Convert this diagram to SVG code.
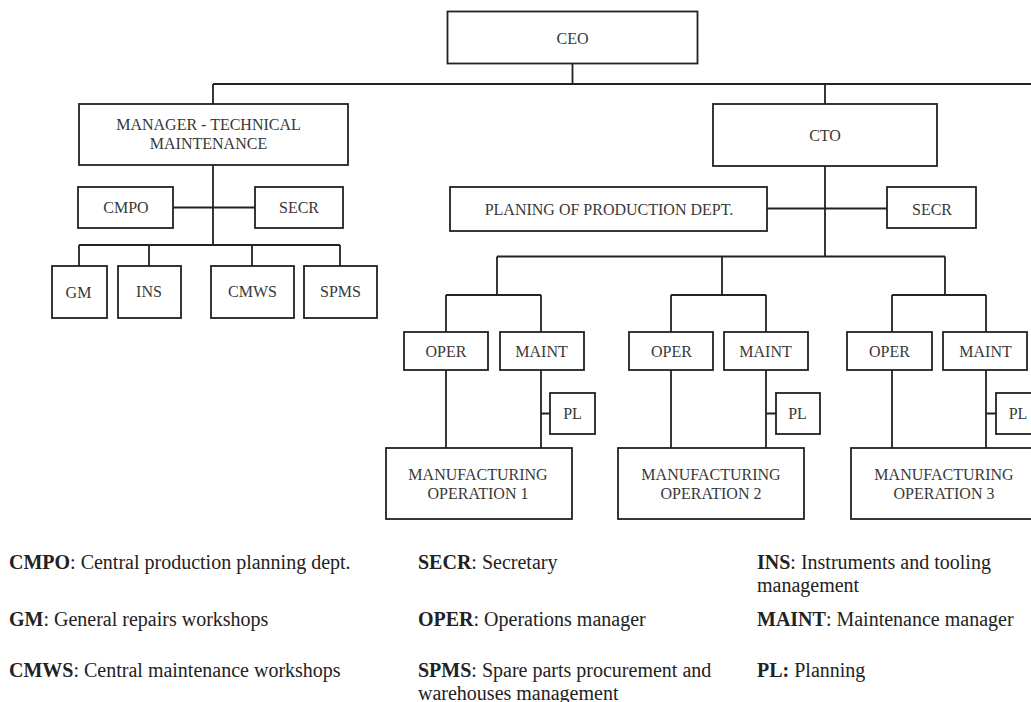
<svg xmlns="http://www.w3.org/2000/svg" width="1031" height="702" viewBox="0 0 1031 702">
  <style>
    .box { fill: #ffffff; stroke: #222222; stroke-width: 1.8; }
    .lbl { font-family: "Liberation Serif", "Times New Roman", serif; font-size: 16px; fill: #383838; text-anchor: middle; }
    .wire { fill: none; stroke: #222222; stroke-width: 1.8; }
    .key { font-family: "Liberation Serif", "Times New Roman", serif; font-size: 20px; fill: #222222; }
    .key .b { font-weight: bold; }
  </style>
  <rect width="1031" height="702" fill="#ffffff"/>

  <!-- connectors -->
  <g id="connectors" class="wire">
    <path d="M572.5 63.5 V84 M213 84 H1031 M213 84 V104 M825 84 V104"/>
    <!-- technical maintenance branch -->
    <path d="M213 165 V245 M173 207.5 H255 M79 245 H340 M79 245 V266 M149 245 V266 M252 245 V266 M340 245 V266"/>
    <!-- CTO branch -->
    <path d="M825 166 V256.5 M767 208.5 H887 M497 256.5 H945 M497 256.5 V295 M722 256.5 V295 M945 256.5 V295"/>
    <path d="M446 295 H541 M671 295 H766 M892 295 H986"/>
    <path d="M446 295 V332 M541 295 V332 M671 295 V332 M766 295 V332 M892 295 V332 M986 295 V332"/>
    <path d="M446 370 V448 M541 370 V448 M671 370 V448 M766 370 V448 M892 370 V448 M986 370 V448"/>
    <path d="M541 413.5 H550 M766 413.5 H776 M986 413.5 H996"/>
  </g>

  <g id="ceo"><rect class="box" x="447.5" y="11.5" width="250" height="52"/><text class="lbl" x="572.5" y="43.5">CEO</text></g>

  <g id="mgr-tech"><rect class="box" x="79" y="104" width="269" height="61"/>
    <text class="lbl" x="208.5" y="130">MANAGER - TECHNICAL</text>
    <text class="lbl" x="208.5" y="148.5">MAINTENANCE</text></g>
  <g id="cmpo"><rect class="box" x="78" y="187" width="95" height="41"/><text class="lbl" x="126" y="212.5">CMPO</text></g>
  <g id="secr-1"><rect class="box" x="255" y="187" width="88" height="41"/><text class="lbl" x="299" y="212.5">SECR</text></g>
  <g id="gm"><rect class="box" x="52" y="266" width="55" height="52"/><text class="lbl" x="78.5" y="297.5">GM</text></g>
  <g id="ins"><rect class="box" x="118" y="266" width="63" height="52"/><text class="lbl" x="149" y="297">INS</text></g>
  <g id="cmws"><rect class="box" x="211" y="266" width="83" height="52"/><text class="lbl" x="252.5" y="297">CMWS</text></g>
  <g id="spms"><rect class="box" x="304" y="266" width="73" height="52"/><text class="lbl" x="340.5" y="297">SPMS</text></g>

  <g id="cto"><rect class="box" x="713" y="104" width="224" height="62"/><text class="lbl" x="825" y="141">CTO</text></g>
  <g id="planning-dept"><rect class="box" x="450" y="187" width="317" height="44"/><text class="lbl" x="609" y="214.5">PLANING OF PRODUCTION DEPT.</text></g>
  <g id="secr-2"><rect class="box" x="887" y="187" width="89" height="41"/><text class="lbl" x="932" y="214.5">SECR</text></g>

  <!-- operation 1 -->
  <g id="oper-1"><rect class="box" x="404" y="332" width="84" height="38"/><text class="lbl" x="446" y="356.5">OPER</text></g>
  <g id="maint-1"><rect class="box" x="500" y="332" width="84" height="38"/><text class="lbl" x="541.5" y="356.5">MAINT</text></g>
  <g id="pl-1"><rect class="box" x="550" y="393" width="45" height="41"/><text class="lbl" x="572.5" y="419">PL</text></g>
  <g id="mfg-1"><rect class="box" x="386" y="448" width="186" height="71"/>
    <text class="lbl" x="478" y="480">MANUFACTURING</text><text class="lbl" x="478" y="499">OPERATION 1</text></g>

  <!-- operation 2 -->
  <g id="oper-2"><rect class="box" x="629" y="332" width="84" height="38"/><text class="lbl" x="671.5" y="356.5">OPER</text></g>
  <g id="maint-2"><rect class="box" x="724" y="332" width="84" height="38"/><text class="lbl" x="765.5" y="356.5">MAINT</text></g>
  <g id="pl-2"><rect class="box" x="776" y="393" width="44" height="41"/><text class="lbl" x="797.5" y="419">PL</text></g>
  <g id="mfg-2"><rect class="box" x="618" y="448" width="186" height="71"/>
    <text class="lbl" x="711" y="480">MANUFACTURING</text><text class="lbl" x="711" y="499">OPERATION 2</text></g>

  <!-- operation 3 -->
  <g id="oper-3"><rect class="box" x="847" y="332" width="85" height="38"/><text class="lbl" x="889.5" y="356.5">OPER</text></g>
  <g id="maint-3"><rect class="box" x="943" y="332" width="84" height="38"/><text class="lbl" x="985.5" y="356.5">MAINT</text></g>
  <g id="pl-3"><rect class="box" x="996" y="393" width="45" height="41"/><text class="lbl" x="1018" y="419">PL</text></g>
  <g id="mfg-3"><rect class="box" x="851" y="448" width="186" height="71"/>
    <text class="lbl" x="944" y="480">MANUFACTURING</text><text class="lbl" x="944" y="499">OPERATION 3</text></g>

  <!-- abbreviation key -->
  <g id="key" class="key">
    <text x="9" y="569"><tspan class="b">CMPO</tspan>: Central production planning dept.</text>
    <text x="9" y="626"><tspan class="b">GM</tspan>: General repairs workshops</text>
    <text x="9" y="677"><tspan class="b">CMWS</tspan>: Central maintenance workshops</text>
    <text x="418" y="569"><tspan class="b">SECR</tspan>: Secretary</text>
    <text x="418" y="626"><tspan class="b">OPER</tspan>: Operations manager</text>
    <text x="418" y="677"><tspan class="b">SPMS</tspan>: Spare parts procurement and</text>
    <text x="418" y="699.5">warehouses management</text>
    <text x="757" y="569"><tspan class="b">INS</tspan>: Instruments and tooling</text>
    <text x="757" y="592">management</text>
    <text x="757" y="626"><tspan class="b">MAINT</tspan>: Maintenance manager</text>
    <text x="757" y="677"><tspan class="b">PL:</tspan> Planning</text>
  </g>
</svg>
